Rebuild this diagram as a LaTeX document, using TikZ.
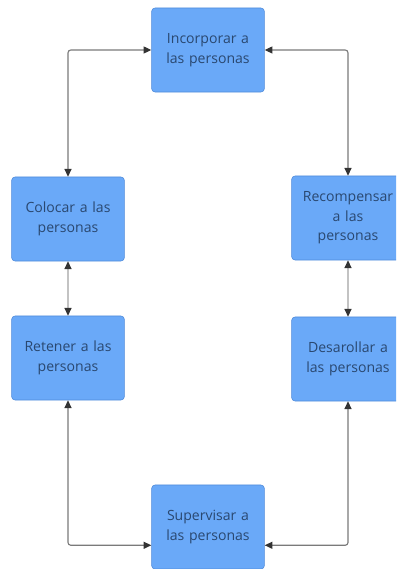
\documentclass[tikz,border=0pt]{standalone}
\usepackage{fontspec}
\setmainfont{Open Sans}
\usetikzlibrary{arrows.meta}

\definecolor{boxfill}{HTML}{6AA9F8}
\definecolor{boxline}{HTML}{4F8BDA}
\definecolor{boxtext}{HTML}{2A4870}
\definecolor{linkgray}{HTML}{7A7A7A}
\definecolor{tipgray}{HTML}{333333}

\begin{document}
\begin{tikzpicture}[
  x=0.025cm,
  y=-0.025cm,
  font=\fontsize{10}{13.8}\selectfont,
  line/.style={draw=linkgray,line width=0.8pt,rounded corners=2pt},
  arrow/.style={line,{Triangle[length=5.5pt,width=5pt,color=tipgray]}-{Triangle[length=5.5pt,width=5pt,color=tipgray]}},
  block/.style={draw=boxline,fill=boxfill,text=boxtext,line width=0.4pt,rounded corners=2.5pt,
    align=center,minimum width=2.8cm,minimum height=2.1cm,text width=2.75cm,inner sep=1pt}
]

\useasboundingbox (0,0) rectangle (396,569);
\clip (0,0) rectangle (396,569);

% Steps of the cycle
\node[block] (incorporar) at (208,50) {Incorporar a\\las personas};
\node[block] (colocar) at (68,219) {Colocar a las\\personas};
\node[block] (retener) at (68,358) {Retener a las\\personas};
\node[block] (recompensar) at (348,218) {Recompensar\\a las\\personas};
\node[block] (desarollar) at (348,359) {Desarollar a\\las personas};
\node[block] (supervisar) at (208,527) {Supervisar a\\las personas};

% Links
\draw[arrow] (incorporar.west) -| (colocar.north);
\draw[arrow] (incorporar.east) -| (recompensar.north);
\draw[arrow,draw=linkgray!45] (colocar.south) -- (retener.north);
\draw[arrow,draw=linkgray!45] (recompensar.south) -- (desarollar.north);
\draw[arrow] (retener.south) |- ([yshift=-13pt]supervisar.west);
\draw[arrow] (desarollar.south) |- ([yshift=-13pt]supervisar.east);

\end{tikzpicture}
\end{document}
